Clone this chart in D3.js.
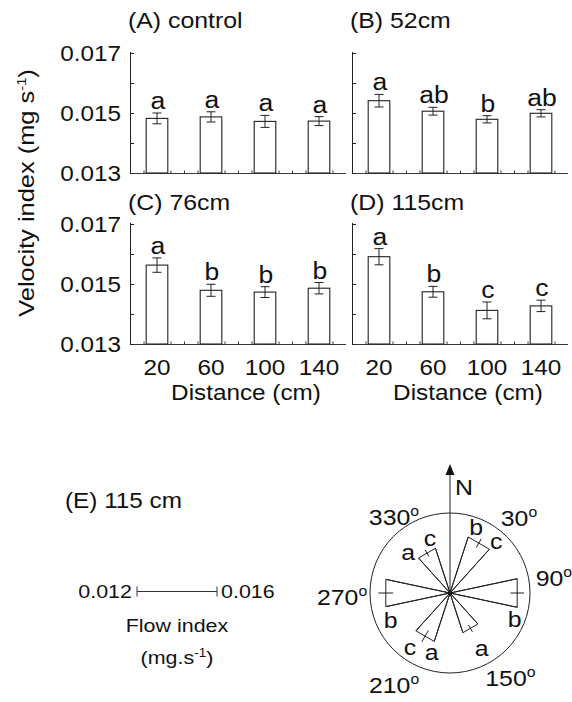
<!DOCTYPE html>
<html><head><meta charset="utf-8">
<script src="https://cdn.jsdelivr.net/npm/d3@7"></script>
<style>body{margin:0;background:#fff}svg{display:block}text{font-family:"Liberation Sans",Arial,Helvetica,sans-serif;fill:#111}</style>
</head><body>
<script>
// ---------------- DATA ----------------
const distances = [20, 60, 100, 140];
const panelTitles = ["(A) control", "(B) 52cm", "(C) 76cm", "(D) 115cm"];
const meanA = [0.01482, 0.01487, 0.01472, 0.01473];
const errA  = [0.00018, 0.00017, 0.00020, 0.00015];
const lettersA = ["a", "a", "a", "a"];
const meanB = [0.01541, 0.01506, 0.01479, 0.01499];
const errB  = [0.00021, 0.00013, 0.00012, 0.00012];
const lettersB = ["a", "ab", "b", "ab"];
const meanC = [0.01563, 0.01479, 0.01473, 0.01486];
const errC  = [0.00024, 0.00020, 0.00018, 0.00019];
const lettersC = ["a", "b", "b", "b"];
const meanD = [0.01591, 0.01474, 0.01412, 0.01427];
const errD  = [0.00027, 0.00018, 0.00028, 0.00019];
const lettersD = ["a", "b", "c", "c"];
const yTickValues = [0.013, 0.015, 0.017];
const yMinorValues = [0.014, 0.016];
const yTickLabels = ["0.013", "0.015", "0.017"];
const yAxisTitle = "Velocity index (mg s";
const xAxisTitle = "Distance (cm)";

// rose diagram (panel E)
const roseTitle = "(E) 115 cm";
const roseDirections = [30, 90, 150, 210, 270, 330];
const roseFlow = [0.01488, 0.01536, 0.01404, 0.01449, 0.01521, 0.01430];
const roseErr  = [0.00025, 0.00034, 0.00020, 0.00033, 0.00037, 0.00019];
const roseLetters = [["b", "c"], ["b"], ["a"], ["c", "a"], ["b"], ["a", "c"]];
const roseScaleDomain = [0.012, 0.016];
const roseScaleLabels = ["0.012", "0.016"];
const degreeLabels = ["30", "90", "150", "210", "270", "330"];

// ---------------- LAYOUT ----------------
const W = 572, H = 702, SX = 1.13;
const panelX = [130, 352, 130, 352];
const panelTop = [53, 53, 224, 224];
const panelW = 216, panelH = 120;
// letter placement around rose wedges [angle, radius] (layout only)
const roseLetterPos = [[[22, 70], [42, 69]], [[112.6, 70]], [[150.6, 64.6]], [[216, 68], [197, 63]], [[245, 65.5]], [[313.6, 57.6], [339.7, 57.6]]];
const degreePos = [[42.6, 101.9], [81.8, 105], [144.6, 104.3], [211.3, 107.7], [267.9, 108], [323.6, 94.4]];

const svg = d3.select("body").append("svg").attr("width", W).attr("height", H);
svg.append("rect").attr("width", W).attr("height", H).attr("fill", "#fff");

function txt(sel, x, y, str, fs, anchor, rot) {
  return sel.append("text")
    .attr("transform", `translate(${x},${y}) rotate(${rot || 0}) scale(${SX},1)`)
    .attr("text-anchor", anchor || "start")
    .style("font-size", fs + "px")
    .text(str);
}

const means = [meanA, meanB, meanC, meanD];
const errs = [errA, errB, errC, errD];
const letters = [lettersA, lettersB, lettersC, lettersD];
const stroke = "#222";

for (let p = 0; p < 4; p++) {
  const x0 = panelX[p], yT = panelTop[p];
  const x = d3.scaleLinear().domain([0, 160]).range([x0, x0 + panelW]);
  const y = d3.scaleLinear().domain([0.013, 0.017]).range([yT + panelH, yT]);
  const g = svg.append("g");

  // y axis (ticks inward)
  const yAxis = d3.axisRight(y).tickValues(yTickValues.concat(yMinorValues)).tickSize(4).tickFormat("");
  g.append("g").attr("transform", `translate(${x0},0)`).call(yAxis)
    .call(s => { s.selectAll("path,line").attr("stroke", stroke).attr("stroke-width", 1); s.select(".domain").attr("d", `M0.5,${y(0.013)}V${y(0.017) - 1}`); });
  // x axis (small ticks upward)
  const xAxis = d3.axisTop(x).tickValues(d3.range(10, 160, 10)).tickSize(3).tickFormat("");
  g.append("g").attr("transform", `translate(0,${y(0.013) + 0.5})`).call(xAxis)
    .call(s => { s.selectAll("path,line").attr("stroke", stroke).attr("stroke-width", 1).attr("stroke-opacity", 0.9); s.select(".domain").attr("d", `M${x0},0H${x0 + panelW}`); });

  // bars
  const data = distances.map((d, i) => ({ d, m: means[p][i], e: errs[p][i], l: letters[p][i] }));
  g.selectAll("rect.bar").data(data).enter().append("rect")
    .attr("x", d => x(d.d - 8)).attr("width", d => x(d.d + 8) - x(d.d - 8))
    .attr("y", d => y(d.m)).attr("height", d => y(0.013) - y(d.m))
    .attr("fill", "#fff").attr("stroke", stroke).attr("stroke-width", 1.1);
  // error bars
  const eb = g.selectAll("g.eb").data(data).enter().append("g");
  eb.append("line").attr("x1", d => x(d.d)).attr("x2", d => x(d.d)).attr("y1", d => y(d.m - d.e)).attr("y2", d => y(d.m + d.e)).attr("stroke", stroke);
  eb.append("line").attr("x1", d => x(d.d) - 4.5).attr("x2", d => x(d.d) + 4.5).attr("y1", d => y(d.m + d.e)).attr("y2", d => y(d.m + d.e)).attr("stroke", stroke);
  eb.append("line").attr("x1", d => x(d.d) - 4.5).attr("x2", d => x(d.d) + 4.5).attr("y1", d => y(d.m - d.e)).attr("y2", d => y(d.m - d.e)).attr("stroke", stroke);
  // letters
  data.forEach(d => txt(g, x(d.d) + 1, y(d.m + d.e) - 4, d.l, 23.5, "middle"));

  // title
  txt(g, x0 - 2, p < 2 ? 28 : 210, panelTitles[p], 22, "start");

  // y tick labels (left panels)
  if (p % 2 === 0) {
    yTickValues.forEach((v, i) => txt(g, x0 - 9, y(v) + 8, yTickLabels[i], 21.5, "end"));
  }
  // x tick labels and title (bottom panels)
  if (p >= 2) {
    distances.forEach(d => txt(g, x(d), 375, String(d), 21.5, "middle"));
    txt(g, x0 + 116, 400, xAxisTitle, 21.5, "middle");
  }
}

// y axis title
{
  const t = txt(svg, 34, 193, yAxisTitle, 22.5, "middle", -90);
  t.append("tspan").attr("dy", -8).style("font-size", "13px").text("-1");
  t.append("tspan").attr("dy", 8).text(")");
}

// ---------------- PANEL E ----------------
txt(svg, 65, 508, roseTitle, 21.5, "start");
const cx = 450, cy = 593;
const r = d3.scaleLinear().domain(roseScaleDomain).range([0, 80]);
// scale bar
{
  const x1 = 137, x2 = x1 + r(roseScaleDomain[1]) - r(roseScaleDomain[0]), yb = 591.5;
  svg.append("line").attr("x1", x1).attr("x2", x2).attr("y1", yb).attr("y2", yb).attr("stroke", "#333");
  svg.append("line").attr("x1", x1).attr("x2", x1).attr("y1", yb - 5).attr("y2", yb + 5).attr("stroke", "#333");
  svg.append("line").attr("x1", x2).attr("x2", x2).attr("y1", yb - 5).attr("y2", yb + 5).attr("stroke", "#333");
  txt(svg, x1 - 5, 598, roseScaleLabels[0], 19, "end");
  txt(svg, x2 + 4, 598, roseScaleLabels[1], 19, "start");
  txt(svg, 177, 632, "Flow index", 19, "middle");
  const u = txt(svg, 177, 664, "(mg.s", 19, "middle");
  u.append("tspan").attr("dy", -7).style("font-size", "12px").text("-1");
  u.append("tspan").attr("dy", 7).text(")");
}

const pt = (ang, rad) => [cx + rad * Math.sin(ang * Math.PI / 180), cy - rad * Math.cos(ang * Math.PI / 180)];
// circle (outer = 0.016)
svg.append("circle").attr("cx", cx).attr("cy", cy).attr("r", r(roseScaleDomain[1])).attr("fill", "none").attr("stroke", stroke).attr("stroke-width", 1);

// wedges
const hw = 12;
roseDirections.forEach((dir, i) => {
  const L = r(roseFlow[i]) / Math.cos(hw * Math.PI / 180);
  const a = pt(dir - hw, L), b = pt(dir + hw, L);
  svg.append("path").attr("d", `M${cx},${cy}L${a[0]},${a[1]}L${b[0]},${b[1]}Z`)
    .attr("fill", "#fff").attr("stroke", stroke).attr("stroke-width", 1);
});
roseDirections.forEach((dir, i) => {
  const p1 = pt(dir, r(roseFlow[i] - roseErr[i])), p2 = pt(dir, r(roseFlow[i] + roseErr[i]));
  svg.append("line").attr("x1", p1[0]).attr("y1", p1[1]).attr("x2", p2[0]).attr("y2", p2[1]).attr("stroke", stroke);
});
roseDirections.forEach((dir, i) => {
  const L = r(roseFlow[i]) / Math.cos(hw * Math.PI / 180);
  const a = pt(dir - hw, L), b = pt(dir + hw, L);
  svg.append("path").attr("d", `M${a[0]},${a[1]}L${cx},${cy}L${b[0]},${b[1]}`)
    .attr("fill", "none").attr("stroke", stroke).attr("stroke-width", 1);
});
svg.append("circle").attr("cx", cx).attr("cy", cy).attr("r", 2).attr("fill", "#111");

// north arrow
svg.append("line").attr("x1", cx).attr("x2", cx).attr("y1", cy).attr("y2", 473).attr("stroke", stroke);
svg.append("path").attr("d", `M${cx},464L${cx - 4.5},475L${cx + 4.5},475Z`).attr("fill", "#111");
txt(svg, 455, 495, "N", 22, "start");

// rose letters
roseLetters.forEach((ls, i) => ls.forEach((l, j) => {
  const [ang, rad] = roseLetterPos[i][j];
  const q = pt(ang, rad);
  txt(svg, q[0], q[1] + 7, l, 22, "middle");
}));

// degree labels
degreeLabels.forEach((s, i) => {
  const [ang, rad] = degreePos[i];
  const q = pt(ang, rad);
  const t = txt(svg, q[0], q[1] + 8, s, 22, "middle");
  t.append("tspan").attr("dy", -9).style("font-size", "14px").text("o");
});
</script>
</body></html>
